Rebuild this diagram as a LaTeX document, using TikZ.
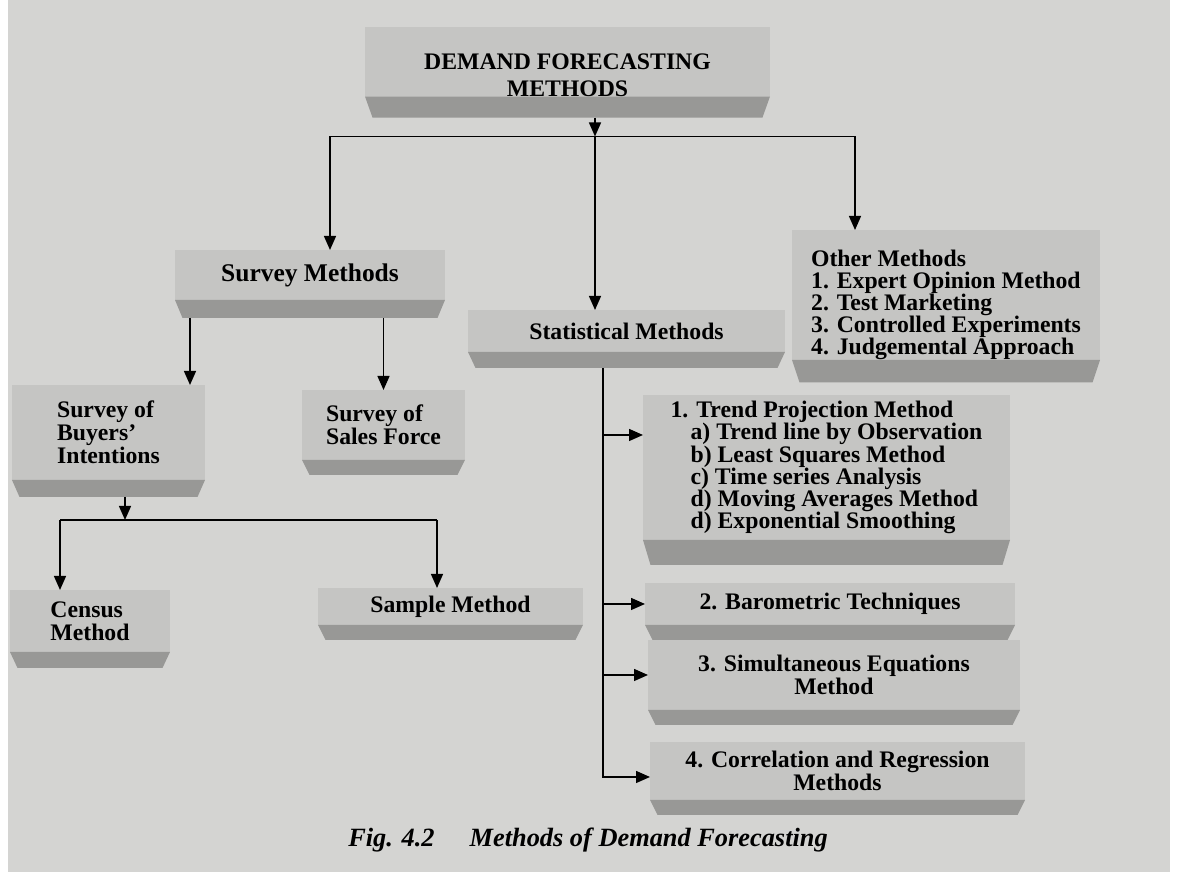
\documentclass[tikz,border=0pt]{standalone}
\usepackage{fontspec}
\setmainfont{Liberation Serif}
\usepackage{tikz}
\usetikzlibrary{positioning,arrows.meta}
\definecolor{paper}{RGB}{212,212,210}
\definecolor{boxgray}{RGB}{197,197,195}
\definecolor{slabgray}{RGB}{152,152,150}

\begin{document}
\begin{tikzpicture}[
			box/.style={
				fill=boxgray,
				inner sep=0pt,
				outer sep=0pt,
				align=center,
				font=\bfseries\fontsize{13.5}{13}\selectfont
			},
			slab/.style={
				fill=paper,
				inner sep=0pt,
				outer sep=0pt,
				minimum height=0.32cm,
				path picture={
					\fill[slabgray] (path picture bounding box.north west) -- (path picture bounding box.north east)
					-- ([xshift=-0.15cm]path picture bounding box.south east)
					-- ([xshift=0.15cm]path picture bounding box.south west) -- cycle;
				}
			},
			list/.style={align=left,font=\bfseries\fontsize{13.5}{12.6}\selectfont},
			arrow/.style={-{Triangle[length=0.28cm,width=0.24cm]},line width=0.8pt},
			line/.style={line width=0.8pt}
			]
			
			\useasboundingbox[fill=white] (0,0) rectangle (23.66,17.68);
			\fill[paper] (0.16,0.24) rectangle (23.4,17.68);
			
			\node[box,minimum width=8.1cm,minimum height=1.2cm,font=\bfseries\fontsize{13.5}{15}\selectfont] (title) at (11.35,16.44)
			{\rule{0pt}{0.85cm}DEMAND FORECASTING\\METHODS};
			\node[slab,minimum width=8.1cm,minimum height=0.42cm,below=0pt of title] (title-base) {};
			
			\node[box,minimum width=5.4cm,minimum height=1cm,font=\bfseries\fontsize{14.5}{14}\selectfont] (survey) at (6.2,12.18) {Survey Methods};
			\node[slab,minimum width=5.4cm,minimum height=0.36cm,below=0pt of survey] (survey-base) {};
			
			\node[box,minimum width=6.34cm,minimum height=0.84cm] (stat) at (12.53,11.06) {Statistical Methods};
			\node[slab,minimum width=6.34cm,below=0pt of stat] (stat-base) {};
			
			\node[box,list,minimum width=6.16cm,minimum height=2.6cm] (other) at (18.92,11.78)
			{\rule{0pt}{0.72cm}Other Methods\\1. Expert Opinion Method\\2. Test Marketing\\3. Controlled Experiments\\4. Judgemental Approach};
			\node[slab,minimum width=6.16cm,minimum height=0.45cm,below=0pt of other] (other-base) {};
			
			\node[box,align=left,minimum width=3.86cm,minimum height=1.9cm] (buyers) at (2.17,9.03)
			{Survey of\\Buyers’\\Intentions};
			\node[slab,minimum width=3.86cm,minimum height=0.34cm,below=0pt of buyers] (buyers-base) {};
			
			\node[box,align=left,minimum width=3.26cm,minimum height=1.4cm] (sales) at (7.67,9.18)
			{Survey of\\Sales Force};
			\node[slab,minimum width=3.26cm,minimum height=0.3cm,below=0pt of sales] (sales-base) {};
			
			\node[box,align=left,minimum width=3.2cm,minimum height=1.24cm] (census) at (1.8,5.26)
			{Census\\Method};
			\node[slab,minimum width=3.2cm,below=0pt of census] (census-base) {};
			
			\node[box,minimum width=5.3cm,minimum height=0.74cm] (sample) at (9.01,5.55) {Sample Method};
			\node[slab,minimum width=5.3cm,minimum height=0.3cm,below=0pt of sample] (sample-base) {};
			
			\node[box,list,minimum width=7.34cm,minimum height=2.9cm] (trend) at (16.53,8.33)
			{1. Trend Projection Method\\
				\hspace*{0.4cm}a) Trend line by Observation\\
				\hspace*{0.4cm}b) Least Squares Method\\
				\hspace*{0.4cm}c) Time series Analysis\\
				\hspace*{0.4cm}d) Moving Averages Method\\
				\hspace*{0.4cm}d) Exponential Smoothing};
			\node[slab,minimum width=7.34cm,minimum height=0.5cm,below=0pt of trend] (trend-base) {};
			
			\node[box,minimum width=7.4cm,minimum height=0.84cm] (baro) at (16.6,5.6) {2. Barometric Techniques};
			\node[slab,minimum width=7.4cm,minimum height=0.3cm,below=0pt of baro] (baro-base) {};
			
			\node[box,minimum width=7.44cm,minimum height=1.4cm] (simul) at (16.68,4.18)
			{3. Simultaneous Equations\\Method};
			\node[slab,minimum width=7.44cm,minimum height=0.3cm,below=0pt of simul] (simul-base) {};
			
			\node[box,minimum width=7.5cm,minimum height=1.16cm] (correl) at (16.75,2.26)
			{4. Correlation and Regression\\Methods};
			\node[slab,minimum width=7.5cm,minimum height=0.3cm,below=0pt of correl] (correl-base) {};
			
			\coordinate (hub) at (11.9,14.95);
			\coordinate (left) at (6.6,14.95);
			\coordinate (right) at (17.1,14.95);
			\coordinate (split) at (2.5,7.28);
			\coordinate (cl) at (1.2,7.28);
			\coordinate (cr) at (8.74,7.28);
			\coordinate (trunk) at (12.06,10);
			
			\draw[arrow] (title-base.south -| hub) -- (hub);
			\draw[line] (left) -- (right);
			\draw[arrow] (left) -- (left |- survey.north);
			\draw[arrow] (hub) -- (hub |- stat.north);
			\draw[arrow] (right) -- (right |- other.north);
			
			\draw[arrow] ([xshift=-2.4cm]survey-base.south) -- ([xshift=-2.4cm]survey-base.south |- buyers.north);
			\draw[arrow] (survey-base.south -| sales.north) -- (sales.north);
			
			\draw[arrow] (buyers-base.south -| split) -- (split);
			\draw[line] (cl) -- (cr);
			\draw[arrow] (cl) -- (cl |- census.north);
			\draw[arrow] (cr) -- (cr |- sample.north);
			
			\draw[arrow] (stat-base.south -| trunk) |- ([yshift=-0.12cm]correl.west);
			\draw[arrow] ([yshift=0.65cm]trend.west -| trunk) -- ([yshift=0.65cm]trend.west);
			\draw[arrow] (baro.west -| trunk) -- (baro.west);
			\draw[arrow] (simul.west -| trunk) -- (simul.west);
			
			\node[font=\bfseries\itshape\fontsize{15}{17}\selectfont] (caption) at (11.76,0.88)
			{Fig. 4.2\hspace{0.7cm}Methods of Demand Forecasting};
			
		\end{tikzpicture}
\end{document}
